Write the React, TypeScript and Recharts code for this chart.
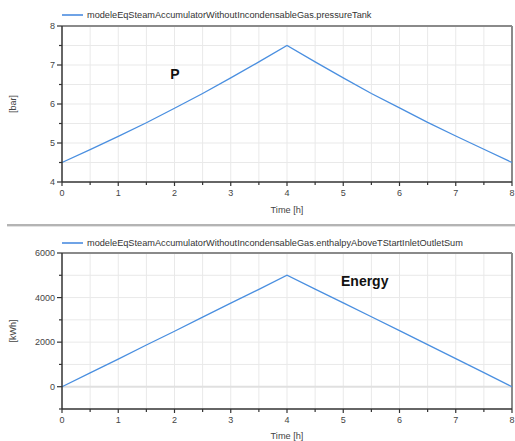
import React from 'react';
import { LineChart, Line, XAxis, YAxis, ReferenceLine, Legend, Label } from 'recharts';

const timeH = [0, 0.5, 1, 1.5, 2, 2.5, 3, 3.5, 4, 4.5, 5, 5.5, 6, 6.5, 7, 7.5, 8];
const pressureBar = [4.5, 4.83, 5.17, 5.52, 5.89, 6.27, 6.67, 7.08, 7.5, 7.08, 6.67, 6.27, 5.9, 5.53, 5.18, 4.84, 4.5];
const energyKWh = [0, 620, 1240, 1870, 2490, 3120, 3750, 4370, 5000, 4380, 3760, 3140, 2520, 1890, 1260, 630, 0];

const xTicks = [0, 0.5, 1, 1.5, 2, 2.5, 3, 3.5, 4, 4.5, 5, 5.5, 6, 6.5, 7, 7.5, 8];
const xLabels = [0, 1, 2, 3, 4, 5, 6, 7, 8];
const pTicks = [4, 4.5, 5, 5.5, 6, 6.5, 7, 7.5, 8];
const pLabels = [4, 5, 6, 7, 8];
const eTicks = [-1000, 0, 1000, 2000, 3000, 4000, 5000, 6000];
const eLabels = [0, 2000, 4000, 6000];

const pressureName = 'modeleEqSteamAccumulatorWithoutIncondensableGas.pressureTank';
const energyName = 'modeleEqSteamAccumulatorWithoutIncondensableGas.enthalpyAboveTStartInletOutletSum';

const pData = timeH.map((t, i) => ({ t, v: pressureBar[i] }));
const eData = timeH.map((t, i) => ({ t, v: energyKWh[i] }));

const FONT = '"Liberation Sans", Arial, sans-serif';
const LINE_COLOR = '#4a8fe0';
const GRID = '#e9e9e9';

const YTick = (props: any) => {
  const { x, y, payload, labels } = props;
  const v = payload.value;
  const major = labels.includes(v);
  return (
    <g>
      <line x1={x} x2={x - (major ? 5 : 3)} y1={y} y2={y} stroke="#333" strokeWidth={1.2} />
      {major && (
        <text x={x - 7} y={y} dy={3.2} textAnchor="end" fontSize={9} fill="#444" fontFamily={FONT}>
          {v}
        </text>
      )}
    </g>
  );
};

const XTick = (props: any) => {
  const { x, y, payload } = props;
  const v = payload.value;
  const major = xLabels.includes(v);
  return (
    <g>
      <line x1={x} x2={x} y1={y} y2={y + (major ? 4 : 3)} stroke="#333" strokeWidth={1.2} />
      {major && (
        <text x={x} y={y + 14} textAnchor="middle" fontSize={9} fill="#444" fontFamily={FONT}>
          {v}
        </text>
      )}
    </g>
  );
};

const makeLegend = (name: string) => () => (
  <div style={{ display: 'flex', alignItems: 'center', height: 22, paddingLeft: 62, fontFamily: FONT, fontSize: 9.2, color: '#333', whiteSpace: 'nowrap' }}>
    <span style={{ display: 'inline-block', width: 21, height: 1.5, background: '#6fa3e6', marginRight: 4 }} />
    <span>{name}</span>
  </div>
);

export default function App() {
  return (
    <div style={{ position: 'absolute', left: 0, top: 0, width: 515, height: 441, background: '#fff', overflow: 'hidden' }}>
      <div style={{ position: 'absolute', left: 0, top: 0 }}>
        <LineChart width={515} height={220} data={pData} margin={{ top: 4, right: 3, left: 0, bottom: 0 }}>
          <Legend verticalAlign="top" align="left" height={22} content={makeLegend(pressureName)} />
          <XAxis
            dataKey="t"
            type="number"
            domain={[0, 8]}
            ticks={xTicks}
            interval={0}
            height={38}
            tickSize={0}
            tickMargin={0}
            tickLine={false}
            axisLine={{ stroke: '#333', strokeWidth: 1.5 }}
            tick={<XTick />}
          >
            <Label value="Time [h]" position="insideBottom" offset={7} style={{ fontSize: 9.2, fill: '#444', fontFamily: FONT }} />
          </XAxis>
          <YAxis
            type="number"
            domain={[4, 8]}
            ticks={pTicks}
            interval={0}
            width={62}
            tickSize={0}
            tickMargin={0}
            tickLine={false}
            axisLine={{ stroke: '#333', strokeWidth: 1.5 }}
            tick={<YTick labels={pLabels} />}
          >
            <Label value="[bar]" angle={-90} position="insideLeft" offset={13} style={{ fontSize: 9, fill: '#444', fontFamily: FONT, textAnchor: 'middle' }} />
          </YAxis>
          {xTicks.filter((v) => v > 0 && v < 8).map((v) => (
            <ReferenceLine key={'gx' + v} x={v} stroke={GRID} strokeWidth={1} />
          ))}
          {pTicks.filter((v) => v > 4 && v < 8).map((v) => (
            <ReferenceLine key={'gy' + v} y={v} stroke={GRID} strokeWidth={1} />
          ))}
          <ReferenceLine x={8} stroke="#8a8a8a" strokeWidth={2} />
          <ReferenceLine y={8} stroke="#8a8a8a" strokeWidth={2} />
          <Line type="linear" dataKey="v" stroke={LINE_COLOR} strokeWidth={1.3} dot={false} isAnimationActive={false} />
        </LineChart>
      </div>

      <div style={{ position: 'absolute', left: 7, top: 224, width: 508, height: 2, background: '#b4b4b4' }} />
      <div style={{ position: 'absolute', left: 7, top: 226, width: 508, height: 1, background: '#e2e2e2' }} />

      <div style={{ position: 'absolute', left: 0, top: 228 }}>
        <LineChart width={515} height={213} data={eData} margin={{ top: 4, right: 3, left: 0, bottom: 0 }}>
          <Legend verticalAlign="top" align="left" height={21} content={makeLegend(energyName)} />
          <XAxis
            dataKey="t"
            type="number"
            domain={[0, 8]}
            ticks={xTicks}
            interval={0}
            height={32}
            tickSize={0}
            tickMargin={0}
            tickLine={false}
            axisLine={{ stroke: '#333', strokeWidth: 1.5 }}
            tick={<XTick />}
          >
            <Label value="Time [h]" position="insideBottom" offset={2} style={{ fontSize: 9.2, fill: '#444', fontFamily: FONT }} />
          </XAxis>
          <YAxis
            type="number"
            domain={[-1000, 6000]}
            ticks={eTicks}
            interval={0}
            width={62}
            tickSize={0}
            tickMargin={0}
            tickLine={false}
            axisLine={{ stroke: '#333', strokeWidth: 1.5 }}
            tick={<YTick labels={eLabels} />}
          >
            <Label value="[kWh]" angle={-90} position="insideLeft" offset={13} style={{ fontSize: 9, fill: '#444', fontFamily: FONT, textAnchor: 'middle' }} />
          </YAxis>
          {xTicks.filter((v) => v > 0 && v < 8).map((v) => (
            <ReferenceLine key={'gx' + v} x={v} stroke={GRID} strokeWidth={1} />
          ))}
          {eTicks.filter((v) => v > -1000 && v < 6000).map((v) => (
            <ReferenceLine key={'gy' + v} y={v} stroke={v === 0 ? '#e0e0e0' : GRID} strokeWidth={v === 0 ? 2 : 1} />
          ))}
          <ReferenceLine x={8} stroke="#8a8a8a" strokeWidth={2} />
          <ReferenceLine y={6000} stroke="#8a8a8a" strokeWidth={2} />
          <Line type="linear" dataKey="v" stroke={LINE_COLOR} strokeWidth={1.3} dot={false} isAnimationActive={false} />
        </LineChart>
      </div>

      <svg width={515} height={441} style={{ position: 'absolute', left: 0, top: 0, pointerEvents: 'none' }}>
        <text x={175} y={79} textAnchor="middle" fontSize={14} fontWeight="bold" fill="#111" fontFamily={FONT}>P</text>
        <text x={341} y={286} fontSize={14} fontWeight="bold" fill="#111" fontFamily={FONT}>Energy</text>
      </svg>
    </div>
  );
}
